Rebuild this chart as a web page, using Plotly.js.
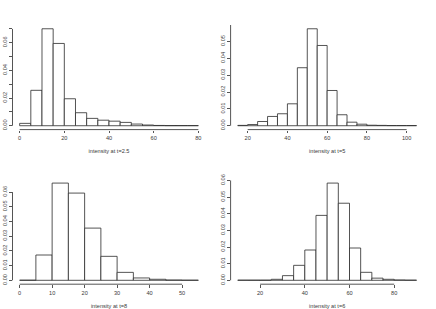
<!DOCTYPE html>
<html>
<head>
<meta charset="utf-8">
<script src="https://cdn.plot.ly/plotly-3.0.1.min.js"></script>
<style>html,body{margin:0;padding:0;background:#fff;}#chart{width:436px;height:309px;}</style>
</head>
<body>
<div id="chart"></div>
<script>
// ---- data (density histograms, bin width 5) ----
const breaks_t25 = [0,5,10,15,20,25,30,35,40,45,50,55,60,65,70,75,80];
const density_t25 = [0.0017,0.0256,0.0701,0.0595,0.0195,0.0094,0.0053,0.0040,0.0033,0.0024,0.0012,0.0005,0.0002,0.0001,0.0001,0.0001];
const xticks_t25 = [0,20,40,60,80];
const yticks_t25 = [0,0.01,0.02,0.03,0.04,0.05,0.06,0.07];
const ylabels_t25 = ["0.00","","0.02","","0.04","","0.06",""];
const title_t25 = "intensity at t=2.5";

const breaks_t5 = [15,20,25,30,35,40,45,50,55,60,65,70,75,80,85,90,95,100,105];
const density_t5 = [0.0002,0.0007,0.0025,0.0055,0.0071,0.0130,0.0344,0.0575,0.0476,0.0209,0.0065,0.0021,0.0009,0.0003,0.0002,0.0001,0.0001,0.0001];
const xticks_t5 = [20,40,60,80,100];
const yticks_t5 = [0,0.01,0.02,0.03,0.04,0.05,0.06];
const ylabels_t5 = ["0.00","0.01","0.02","0.03","0.04","0.05","0.06"];
const title_t5 = "intensity at t=5";

const breaks_t8 = [0,5,10,15,20,25,30,35,40,45,50,55];
const density_t8 = [0.0001,0.0172,0.0661,0.0593,0.0355,0.0163,0.0054,0.0016,0.0007,0.0002,0.0001];
const xticks_t8 = [0,10,20,30,40,50];
const yticks_t8 = [0,0.01,0.02,0.03,0.04,0.05,0.06];
const ylabels_t8 = ["0.00","0.01","0.02","0.03","0.04","0.05","0.06"];
const title_t8 = "intensity at t=8";

const breaks_t6 = [10,15,20,25,30,35,40,45,50,55,60,65,70,75,80,85,90];
const density_t6 = [0.0001,0.0001,0.0001,0.0006,0.0028,0.0090,0.0182,0.0390,0.0584,0.0463,0.0194,0.0048,0.0013,0.0006,0.0002,0.0001];
const xticks_t6 = [20,40,60,80];
const yticks_t6 = [0,0.01,0.02,0.03,0.04,0.05,0.06];
const ylabels_t6 = ["0.00","0.01","0.02","0.03","0.04","0.05","0.06"];
const title_t6 = "intensity at t=6";

// ---- build ----
const W = 436, H = 309;
const panels = [
  {b: breaks_t25, d: density_t25, xt: xticks_t25, yt: yticks_t25, yl: ylabels_t25, title: title_t25},
  {b: breaks_t5,  d: density_t5,  xt: xticks_t5,  yt: yticks_t5,  yl: ylabels_t5,  title: title_t5},
  {b: breaks_t8,  d: density_t8,  xt: xticks_t8,  yt: yticks_t8,  yl: ylabels_t8,  title: title_t8},
  {b: breaks_t6,  d: density_t6,  xt: xticks_t6,  yt: yticks_t6,  yl: ylabels_t6,  title: title_t6}
];
// plot regions in pixels [left, right, top, bottom]
const colX = [[12.5, 205.5], [230.6, 423.7]];
const rowY = [[24.9, 129.6], [179.2, 284.2]];

const ink = '#2a2a2a';
const txt = '#3a3a3a';
const fontFam = 'Liberation Sans, Arial, Helvetica, sans-serif';
const fs = 5.6;

const traces = [];
const layout = {
  width: W, height: H,
  margin: {l: 0, r: 0, t: 0, b: 0},
  paper_bgcolor: '#fff', plot_bgcolor: '#fff',
  showlegend: false,
  bargap: 0,
  font: {family: fontFam, size: fs, color: txt},
  shapes: []
};

panels.forEach((p, i) => {
  const n = i + 1;
  const xa = 'x' + (n === 1 ? '' : n), ya = 'y' + (n === 1 ? '' : n);
  const xaKey = 'xaxis' + (n === 1 ? '' : n), yaKey = 'yaxis' + (n === 1 ? '' : n);
  const mids = [], widths = [];
  for (let k = 0; k < p.d.length; k++) {
    mids.push((p.b[k] + p.b[k + 1]) / 2);
    widths.push(p.b[k + 1] - p.b[k]);
  }
  traces.push({
    type: 'bar', x: mids, y: p.d, width: widths,
    xaxis: xa, yaxis: ya,
    marker: {color: '#ffffff', line: {color: ink, width: 0.8}},
    hoverinfo: 'x+y'
  });
  const bmin = p.b[0], bmax = p.b[p.b.length - 1];
  const xr = [bmin - 0.04 * (bmax - bmin), bmax + 0.04 * (bmax - bmin)];
  const dmax = Math.max(...p.d);
  const yr = [-0.04 * dmax, 1.04 * dmax];
  const c = colX[i % 2], r = rowY[Math.floor(i / 2)];
  layout[xaKey] = {
    domain: [c[0] / W, c[1] / W],
    anchor: ya, range: xr, showgrid: false, zeroline: false, showline: false,
    tickmode: 'array', tickvals: p.xt, ticktext: p.xt.map(String),
    ticks: 'outside', ticklen: 2.6, tickwidth: 0.8, tickcolor: ink,
    tickfont: {size: fs, color: txt, family: fontFam},
    title: {text: p.title, font: {size: fs, color: txt, family: fontFam}, standoff: 9}
  };
  layout[yaKey] = {
    domain: [1 - r[1] / H, 1 - r[0] / H],
    anchor: xa, range: yr, showgrid: false, zeroline: false, showline: false,
    tickmode: 'array', tickvals: p.yt, ticktext: p.yl, tickangle: -90,
    ticks: 'outside', ticklen: 2.6, tickwidth: 0.8, tickcolor: ink,
    tickfont: {size: fs, color: txt, family: fontFam}
  };
  // axis lines spanning first to last tick (R style)
  layout.shapes.push({type: 'line', xref: xa, yref: ya + ' domain',
    x0: p.xt[0], x1: p.xt[p.xt.length - 1], y0: 0, y1: 0,
    line: {color: ink, width: 0.8}});
  layout.shapes.push({type: 'line', xref: xa + ' domain', yref: ya,
    x0: 0, x1: 0, y0: p.yt[0], y1: p.yt[p.yt.length - 1],
    line: {color: ink, width: 0.8}});
});

Plotly.newPlot('chart', traces, layout, {staticPlot: true, displayModeBar: false});
</script>
</body>
</html>
